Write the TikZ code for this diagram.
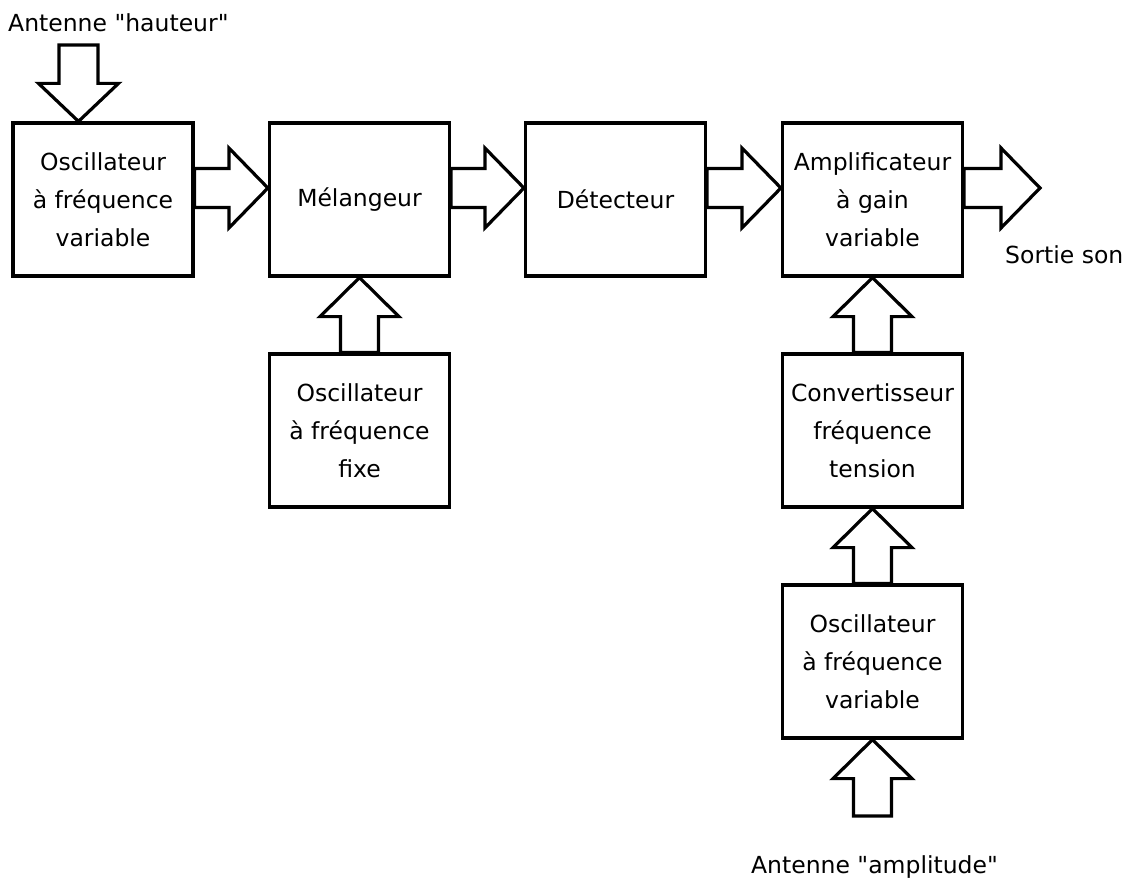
\documentclass[tikz,border=0pt]{standalone}
\usepackage{fontspec}
\setmainfont{DejaVu Sans}
\usetikzlibrary{calc}
\tikzset{
  blockbox/.style={draw=black, line width=3.2pt, minimum width=180pt, minimum height=153pt,
    align=center, inner sep=0pt, font=\fontsize{23.5}{38}\selectfont},
  barrow/.style={draw=black, fill=white, line width=3.2pt, line join=miter},
  lbl/.style={inner sep=0pt, font=\fontsize{23.5}{38}\selectfont}
}
% right-pointing block arrow: from #1 (base) to #2 (tip), vertical shift #3 (canvas, up positive)
\newcommand{\BArrowR}[3]{%
  \draw[barrow] let \p1=(#1), \p2=(#2) in
    (\x1,\y2+#3+19.5pt) -- (\x2-39pt,\y2+#3+19.5pt) -- (\x2-39pt,\y2+#3+40pt) --
    (\x2,\y2+#3) -- (\x2-39pt,\y2+#3-40pt) -- (\x2-39pt,\y2+#3-19.5pt) --
    (\x1,\y2+#3-19.5pt) -- cycle;}
% up-pointing block arrow: base #1 (below), tip #2 (above), horizontal shift #3
\newcommand{\BArrowU}[3]{%
  \draw[barrow] let \p1=(#1), \p2=(#2) in
    (\x2+#3-19pt,\y1) -- (\x2+#3-19pt,\y2-39pt) -- (\x2+#3-39.5pt,\y2-39pt) --
    (\x2+#3,\y2) -- (\x2+#3+39.5pt,\y2-39pt) -- (\x2+#3+19pt,\y2-39pt) --
    (\x2+#3+19pt,\y1) -- cycle;}
% down-pointing block arrow: base #1 (above), tip #2 (below), horizontal shift #3
\newcommand{\BArrowD}[3]{%
  \draw[barrow] let \p1=(#1), \p2=(#2) in
    (\x2+#3-19.5pt,\y1) -- (\x2+#3-19.5pt,\y2+38pt) -- (\x2+#3-40pt,\y2+38pt) --
    (\x2+#3,\y2) -- (\x2+#3+40pt,\y2+38pt) -- (\x2+#3+19.5pt,\y2+38pt) --
    (\x2+#3+19.5pt,\y1) -- cycle;}
\begin{document}
\begin{tikzpicture}[x=1pt,y=-1pt]
\useasboundingbox (0,0) rectangle (1133,880);
% boxes
\node[blockbox] (osc1) at (103,199.5) {Oscillateur\\à fréquence\\variable};
\node[blockbox] (mel) at (359.5,199.5) {Mélangeur};
\node[blockbox] (det) at (615.5,199.5) {Détecteur};
\node[blockbox] (amp) at (872.5,199.5) {Amplificateur\\à gain\\variable};
\node[blockbox] (fix) at (359.5,430.5) {Oscillateur\\à fréquence\\fixe};
\node[blockbox] (conv) at (872.5,430.5) {Convertisseur\\fréquence\\tension};
\node[blockbox] (osc2) at (872.5,661.5) {Oscillateur\\à fréquence\\variable};
% labels
\node[lbl, anchor=base west] (anth) at (8,32) {Antenne \textquotedbl hauteur\textquotedbl};
\node[lbl, anchor=base west] (sortie) at (1005,263) {Sortie son};
\node[lbl, anchor=base] (anta) at (874.5,873) {Antenne \textquotedbl amplitude\textquotedbl};
% free ends
\coordinate (inh) at (78.5,45);
\coordinate (out) at (1040,199.5);
\coordinate (ina) at (872.5,816);
% arrows
\BArrowD{inh}{osc1.north}{-24.5pt}
\BArrowR{osc1.east}{mel.west}{11.5pt}
\BArrowR{mel.east}{det.west}{11.5pt}
\BArrowR{det.east}{amp.west}{11.5pt}
\BArrowR{amp.east}{out}{11.5pt}
\BArrowU{fix.north}{mel.south}{0pt}
\BArrowU{conv.north}{amp.south}{0pt}
\BArrowU{osc2.north}{conv.south}{0pt}
\BArrowU{ina}{osc2.south}{0pt}
\end{tikzpicture}
\end{document}
